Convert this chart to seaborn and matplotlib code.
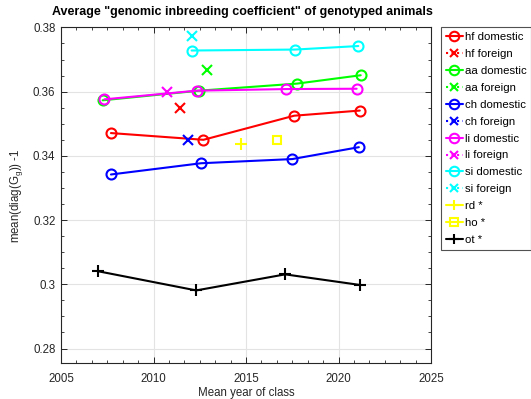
import numpy as np
import pandas as pd
import matplotlib
matplotlib.use("Agg")
import matplotlib.pyplot as plt
from matplotlib.ticker import AutoMinorLocator, MultipleLocator
import seaborn as sns

# ---- data: mean year of class and mean(diag(G_g)) - 1 per breed group ----
hf_dom_x = [2007.7, 2012.7, 2017.6, 2021.15]
hf_dom_y = [0.3471, 0.3450, 0.3525, 0.3541]
hf_for_x = [2011.45]
hf_for_y = [0.3548]

aa_dom_x = [2007.25, 2012.47, 2017.76, 2021.2]
aa_dom_y = [0.3573, 0.3603, 0.3625, 0.3651]
aa_for_x = [2012.87]
aa_for_y = [0.3667]

ch_dom_x = [2007.7, 2012.57, 2017.5, 2021.1]
ch_dom_y = [0.3342, 0.3377, 0.3390, 0.3427]
ch_for_x = [2011.85]
ch_for_y = [0.3448]

li_dom_x = [2007.35, 2012.33, 2017.18, 2020.98]
li_dom_y = [0.3576, 0.3603, 0.3608, 0.3609]
li_for_x = [2010.71]
li_for_y = [0.3598]

si_dom_x = [2012.06, 2017.65, 2021.07]
si_dom_y = [0.3728, 0.3731, 0.3742]
si_for_x = [2012.06]
si_for_y = [0.3774]

rd_x = [2014.75]
rd_y = [0.3438]
ho_x = [2016.66]
ho_y = [0.3448]
ot_x = [2006.98, 2012.31, 2017.12, 2021.16]
ot_y = [0.3041, 0.2981, 0.3031, 0.2998]

series = [
    ("hf domestic", hf_dom_x, hf_dom_y, "#ff0000", "o", "-"),
    ("hf foreign", hf_for_x, hf_for_y, "#ff0000", "x", ":"),
    ("aa domestic", aa_dom_x, aa_dom_y, "#00ff00", "o", "-"),
    ("aa foreign", aa_for_x, aa_for_y, "#00ff00", "x", ":"),
    ("ch domestic", ch_dom_x, ch_dom_y, "#0000ff", "o", "-"),
    ("ch foreign", ch_for_x, ch_for_y, "#0000ff", "x", ":"),
    ("li domestic", li_dom_x, li_dom_y, "#ff00ff", "o", "-"),
    ("li foreign", li_for_x, li_for_y, "#ff00ff", "x", ":"),
    ("si domestic", si_dom_x, si_dom_y, "#00ffff", "o", "-"),
    ("si foreign", si_for_x, si_for_y, "#00ffff", "x", ":"),
    ("rd *", rd_x, rd_y, "#ffff00", "+", "-"),
    ("ho *", ho_x, ho_y, "#ffff00", "s", "-"),
    ("ot *", ot_x, ot_y, "#000000", "+", "-"),
]

sns.set_theme(style="white")
plt.rcParams["font.family"] = ["Liberation Sans", "DejaVu Sans"]
plt.rcParams["mathtext.default"] = "regular"

fig = plt.figure(figsize=(5.31, 3.99), dpi=100)
ax = fig.add_axes([61 / 531, 1 - 363 / 399, 370 / 531, (363 - 27.4) / 399])

msize = {"o": 7.2, "x": 6.8, "+": 8.0, "s": 6.2}
for label, xs, ys, col, mk, ls in series:
    df = pd.DataFrame({"year": xs, "val": ys})
    sns.lineplot(data=df, x="year", y="val", ax=ax, color=col, label=label,
                 marker=mk, linestyle=ls, linewidth=1.5,
                 markersize=msize[mk], markerfacecolor="none",
                 markeredgecolor=col, markeredgewidth=1.5)

ax.set_xlim(2005, 2025)
ax.set_ylim(0.2755, 0.38)
ax.xaxis.set_major_locator(MultipleLocator(5))
ax.xaxis.set_minor_locator(AutoMinorLocator(6))
ax.set_yticks([0.28, 0.30, 0.32, 0.34, 0.36, 0.38])
ax.set_yticklabels(["0.28", "0.3", "0.32", "0.34", "0.36", "0.38"])
ax.yaxis.set_minor_locator(AutoMinorLocator(4))

ax.grid(True, which="major", color="#e3e3e3", linewidth=0.8)
ax.set_axisbelow(True)
for sp in ax.spines.values():
    sp.set_visible(True)
    sp.set_color("#262626")
    sp.set_linewidth(0.8)
ax.tick_params(which="both", direction="in", top=True, right=True,
               bottom=True, left=True, color="#262626", labelcolor="#262626",
               labelsize=8.3)
ax.tick_params(which="major", length=4, width=0.7)
ax.tick_params(which="minor", length=2.2, width=0.6)
ax.tick_params(axis="x", which="major", pad=7.5)
ax.tick_params(axis="y", which="major", pad=4)

ax.set_xlabel("Mean year of class", fontsize=8.3, color="#262626", labelpad=1)
ax.set_ylabel("mean(diag(G$_g$)) -1", fontsize=8.3, color="#262626", labelpad=6)

fig.text(242 / 531, 1 - 12 / 399, 'Average "genomic inbreeding coefficient" of genotyped animals',
         ha="center", va="center", fontsize=9, fontweight="bold", color="black")

leg = ax.legend(loc="upper left", bbox_to_anchor=(441 / 531, 1 - 27.3 / 399),
                bbox_transform=fig.transFigure, prop={"size": 8.2}, frameon=True,
                fancybox=False, borderaxespad=0, handlelength=1.5,
                handletextpad=0.2, labelspacing=0.61, borderpad=0.4,
                markerscale=0.95)
leg.get_frame().set_edgecolor("#262626")
leg.get_frame().set_linewidth(0.8)
for txt in leg.get_texts():
    txt.set_color("#000000")

fig.savefig("out.png", dpi=100)
